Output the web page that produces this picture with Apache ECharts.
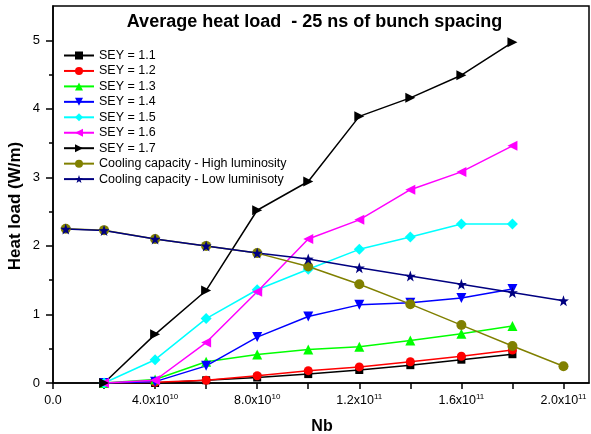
<!DOCTYPE html>
<html><head><meta charset="utf-8">
<script src="https://cdn.jsdelivr.net/npm/echarts@6/dist/echarts.min.js"></script>
<style>html,body{margin:0;padding:0;background:#fff}#c{width:591px;height:434px}</style>
</head><body><div id="c"></div>
<script>
// ---- data ----
const nbSEY = [2e10, 4e10, 6e10, 8e10, 1e11, 1.2e11, 1.4e11, 1.6e11, 1.8e11];
const nbCooling = [5e9, 2e10, 4e10, 6e10, 8e10, 1e11, 1.2e11, 1.4e11, 1.6e11, 1.8e11, 2e11];
const sey11 = [0, 0.0, 0.04, 0.08, 0.13, 0.19, 0.26, 0.34, 0.42];
const sey12 = [0, 0.01, 0.04, 0.105, 0.18, 0.235, 0.31, 0.39, 0.48];
const sey13 = [0, 0.05, 0.31, 0.415, 0.49, 0.53, 0.62, 0.72, 0.83];
const sey14 = [0, 0.02, 0.25, 0.67, 0.97, 1.14, 1.17, 1.24, 1.37];
const sey15 = [0, 0.34, 0.94, 1.36, 1.66, 1.95, 2.13, 2.32, 2.32];
const sey16 = [0, 0.04, 0.59, 1.33, 2.10, 2.38, 2.82, 3.08, 3.46];
const sey17 = [0, 0.71, 1.35, 2.52, 2.94, 3.89, 4.16, 4.49, 4.97];
const coolingHigh = [2.25, 2.23, 2.10, 2.00, 1.895, 1.70, 1.44, 1.15, 0.845, 0.54, 0.245];
const coolingLow = [2.245, 2.225, 2.10, 2.00, 1.895, 1.81, 1.68, 1.56, 1.44, 1.32, 1.20];
const seyNames = ['SEY = 1.1', 'SEY = 1.2', 'SEY = 1.3', 'SEY = 1.4', 'SEY = 1.5', 'SEY = 1.6', 'SEY = 1.7'];
const coolingNames = ['Cooling capacity - High luminosity', 'Cooling capacity - Low luminisoty'];
const xTickValues = [0, 2e10, 4e10, 6e10, 8e10, 1e11, 1.2e11, 1.4e11, 1.6e11, 1.8e11, 2e11];
const xLabelValues = [0, 4e10, 8e10, 1.2e11, 1.6e11, 2e11];
const xLabelMantissa = ['0.0', '4.0', '8.0', '1.2', '1.6', '2.0'];
const xLabelExponent = ['', '10', '10', '11', '11', '11'];
const yTickValues = [0, 1, 2, 3, 4, 5];
const yMinorTickValues = [0.5, 1.5, 2.5, 3.5, 4.5];
const titleText = 'Average heat load  - 25 ns of bunch spacing';
const xName = 'Nb';
const yName = 'Heat load (W/m)';

// ---- styling ----
const FONT = 'Arial, "Liberation Sans", sans-serif';
const STAR = 'path://M0,-10 L2.35,-3.24 L9.51,-3.09 L3.8,1.24 L5.88,8.09 L0,4 L-5.88,8.09 L-3.8,1.24 L-9.51,-3.09 L-2.35,-3.24 Z';
const seyStyles = [
  {color: '#000000', symbol: 'rect', size: 8, rot: 0},
  {color: '#ff0000', symbol: 'circle', size: 9, rot: 0},
  {color: '#00ff00', symbol: 'triangle', size: 10, rot: 0},
  {color: '#0000ff', symbol: 'triangle', size: 10, rot: 180},
  {color: '#00ffff', symbol: 'diamond', size: 11, rot: 0},
  {color: '#ff00ff', symbol: 'triangle', size: 10, rot: 90},
  {color: '#000000', symbol: 'triangle', size: 10, rot: -90}
];
const coolingStyles = [
  {color: '#808000', symbol: 'circle', size: 10, rot: 0},
  {color: '#000080', symbol: STAR, size: 11, rot: 0}
];

const zip = (xs, ys) => xs.map((x, i) => [x, ys[i]]);
const seyData = [sey11, sey12, sey13, sey14, sey15, sey16, sey17];
const series = [];
seyData.forEach((ys, i) => {
  const s = seyStyles[i];
  series.push({
    name: seyNames[i], type: 'line', data: zip(nbSEY, ys),
    symbol: s.symbol, symbolSize: s.size, symbolRotate: s.rot,
    lineStyle: {color: s.color, width: 1.5}, itemStyle: {color: s.color},
    showAllSymbol: true, animation: false
  });
});
[coolingHigh, coolingLow].forEach((ys, i) => {
  const s = coolingStyles[i];
  series.push({
    name: coolingNames[i], type: 'line', data: zip(nbCooling, ys),
    symbol: s.symbol, symbolSize: s.size, symbolRotate: s.rot,
    lineStyle: {color: s.color, width: 1.5}, itemStyle: {color: s.color},
    showAllSymbol: true, animation: false
  });
});

const chart = echarts.init(document.getElementById('c'), null, {renderer: 'canvas'});
chart.setOption({
  animation: false,
  backgroundColor: '#ffffff',
  textStyle: {fontFamily: FONT},
  grid: {left: 53, right: 2, top: 6, bottom: 51, show: true, borderColor: '#000', borderWidth: 1.5, backgroundColor: 'transparent'},
  legend: {
    orient: 'vertical', left: 63, top: 49, padding: 0,
    itemWidth: 30, itemHeight: 10, itemGap: 2.45,
    textStyle: {fontSize: 12.5, color: '#000', fontFamily: FONT, lineHeight: 12},
    data: seyNames.concat(coolingNames)
  },
  xAxis: {
    type: 'value', min: 0, max: 2.1e11,
    axisLine: {lineStyle: {color: '#000', width: 1.5}},
    axisTick: {customValues: xTickValues, length: 6, lineStyle: {color: '#000', width: 1.5}},
    splitLine: {show: false},
    axisLabel: {
      customValues: xLabelValues, margin: 10, color: '#000',
      formatter: function (v) {
        let idx = xLabelValues.findIndex(t => Math.abs(t - v) < 1e6);
        if (idx < 0) return '';
        return xLabelExponent[idx] ? '{b|' + xLabelMantissa[idx] + 'x10}{s|' + xLabelExponent[idx] + '}' : '{z|' + xLabelMantissa[idx] + '}';
      },
      rich: {
        b: {fontSize: 12.5, color: '#000', fontFamily: FONT, lineHeight: 14, verticalAlign: 'bottom'},
        z: {fontSize: 12.5, color: '#000', fontFamily: FONT, lineHeight: 14, padding: [2, 0, 0, 0]},
        s: {fontSize: 8, color: '#000', fontFamily: FONT, verticalAlign: 'top', lineHeight: 8, padding: [0, 0, 8, 0]}
      }
    }
  },
  yAxis: [{
    type: 'value', min: 0, max: 5.5, position: 'left',
    axisLine: {show: true, lineStyle: {color: '#000', width: 1.5}},
    axisTick: {show: true, customValues: yTickValues, length: 7, lineStyle: {color: '#000', width: 1.5}},
    splitLine: {show: false},
    axisLabel: {customValues: yTickValues, margin: 13, color: '#000', fontSize: 13, fontFamily: FONT}
  }, {
    type: 'value', min: 0, max: 5.5, position: 'left',
    axisLine: {show: false},
    axisTick: {show: true, customValues: yMinorTickValues, length: 4, lineStyle: {color: '#000', width: 1.5}},
    axisLabel: {show: false},
    splitLine: {show: false}
  }],
  graphic: [
    {type: 'text', x: 314.5, y: 22, style: {text: titleText, fontSize: 18, fontWeight: 'bold', fontFamily: FONT, fill: '#000', textAlign: 'center', textVerticalAlign: 'middle'}},
    {type: 'text', x: 322, y: 427, style: {text: xName, fontSize: 16, fontWeight: 'bold', fontFamily: FONT, fill: '#000', textAlign: 'center', textVerticalAlign: 'middle'}},
    {type: 'text', x: 15, y: 206, rotation: Math.PI / 2, style: {text: yName, fontSize: 17, fontWeight: 'bold', fontFamily: FONT, fill: '#000', textAlign: 'center', textVerticalAlign: 'middle'}}
  ],
  series: series
});
</script></body></html>
